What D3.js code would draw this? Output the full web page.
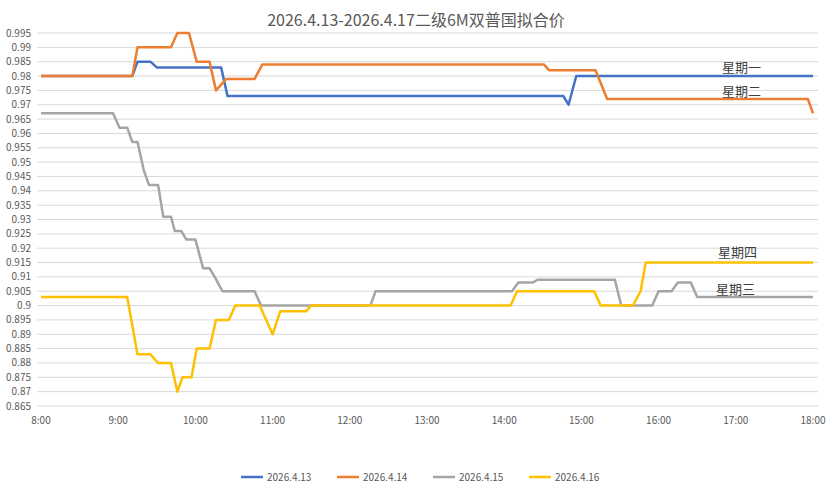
<!DOCTYPE html>
<html><head><meta charset="utf-8">
<script src="https://cdn.jsdelivr.net/npm/d3@7"></script>
<style>body{margin:0;background:#fff}text{font-family:"Noto Sans CJK SC","Noto Sans",sans-serif}</style>
</head><body><div id="chart"></div>
<script>
// 时间点为 "H:MM"，数值为拟合价
const seriesNames = ["2026.4.13", "2026.4.14", "2026.4.15", "2026.4.16"];
const colors = ["#4472C4", "#ED7D31", "#A5A5A5", "#FFC000"];
const dayLabels = ["星期一", "星期二", "星期三", "星期四"];

const mon = [["8:00",.98],["9:11",.98],["9:15",.985],["9:25",.985],["9:30",.983],["10:20",.983],["10:25",.973],["14:46",.973],["14:50",.970],["14:56",.98],["18:00",.98]];
const tue = [["8:00",.98],["9:11",.98],["9:15",.99],["9:41",.99],["9:46",.995],["9:55",.995],["10:01",.985],["10:11",.985],["10:16",.975],["10:24",.979],["10:46",.979],["10:52",.984],["14:31",.984],["14:35",.982],["15:11",.982],["15:20",.972],["17:56",.972],["18:00",.967]];
const wed = [["8:00",.967],["8:56",.967],["9:01",.962],["9:07",.962],["9:11",.957],["9:15",.957],["9:20",.947],["9:24",.942],["9:31",.942],["9:35",.931],["9:41",.931],["9:44",.926],["9:49",.926],["9:53",.923],["10:00",.923],["10:06",.913],["10:11",.913],["10:15",.91],["10:21",.905],["10:46",.905],["10:51",.90],["12:16",.90],["12:20",.905],["14:06",.905],["14:11",.908],["14:22",.908],["14:26",.909],["15:26",.909],["15:31",.90],["15:55",.90],["16:00",.905],["16:10",.905],["16:15",.908],["16:25",.908],["16:30",.903],["18:00",.903]];
const thu = [["8:00",.903],["9:07",.903],["9:15",.883],["9:25",.883],["9:31",.88],["9:41",.88],["9:46",.87],["9:50",.875],["9:57",.875],["10:01",.885],["10:11",.885],["10:16",.895],["10:26",.895],["10:31",.90],["10:50",.90],["11:00",.89],["11:06",.898],["11:26",.898],["11:30",.90],["14:05",.90],["14:10",.905],["15:10",.905],["15:15",.90],["15:40",.90],["15:46",.905],["15:50",.915],["18:00",.915]];
const allSeries = [mon, tue, wed, thu];
const xTicks = ["8:00","9:00","10:00","11:00","12:00","13:00","14:00","15:00","16:00","17:00","18:00"];
const yTicks = d3.range(0, 27).map(i => +(0.865 + i * 0.005).toFixed(3));

const W = 833, H = 499, M = {top: 33, right: 20, bottom: 93, left: 41};
const toMin = s => { const [h, m] = s.split(":").map(Number); return h * 60 + m; };

const svg = d3.select("#chart").append("svg").attr("width", W).attr("height", H);
const x = d3.scaleLinear().domain([480, 1080]).range([M.left, W - M.right]);
const y = d3.scaleLinear().domain([0.865, 0.995]).range([H - M.bottom, M.top]);

// 网格
svg.append("g").selectAll("line").data(yTicks).enter().append("line")
    .attr("x1", M.left - 4).attr("x2", W - M.right + 5)
    .attr("y1", d => y(d)).attr("y2", d => y(d))
    .attr("stroke", "#d9d9d9").attr("stroke-width", 1);

svg.append("g").selectAll("text").data(yTicks).enter().append("text")
    .attr("x", 31).attr("y", d => y(d) + 3.5).attr("text-anchor", "end")
    .attr("font-size", 10).attr("fill", "#595959")
    .text(d => d3.format(".3~f")(d));

svg.append("g").selectAll("text").data(xTicks).enter().append("text")
    .attr("x", d => x(toMin(d))).attr("y", H - M.bottom + 18).attr("text-anchor", "middle")
    .attr("font-size", 10).attr("fill", "#595959").text(d => d);

// 标题
svg.append("text").attr("x", 416).attr("y", 26).attr("text-anchor", "middle")
    .attr("font-size", 16).attr("fill", "#595959").text("2026.4.13-2026.4.17二级6M双普国拟合价");

const line = d3.line().x(d => x(toMin(d[0]))).y(d => y(d[1]));
allSeries.forEach((s, i) => {
    svg.append("path").datum(s).attr("d", line).attr("fill", "none")
        .attr("stroke", colors[i]).attr("stroke-width", 2.5).attr("stroke-linejoin", "round");
});

// 标注
const labelPos = [[722, 72], [722, 96], [716, 294], [718, 257]];
dayLabels.forEach((t, i) => {
    svg.append("text").attr("x", labelPos[i][0]).attr("y", labelPos[i][1])
        .attr("font-size", 13).attr("fill", "#404040").text(t);
});

// 图例
const lg = svg.append("g");
seriesNames.forEach((n, i) => {
    const lx = 241 + i * 96;
    lg.append("line").attr("x1", lx).attr("x2", lx + 22).attr("y1", 477).attr("y2", 477)
        .attr("stroke", colors[i]).attr("stroke-width", 2.5);
    lg.append("text").attr("x", lx + 26).attr("y", 481).attr("font-size", 10)
        .attr("fill", "#595959").text(n);
});
</script></body></html>
